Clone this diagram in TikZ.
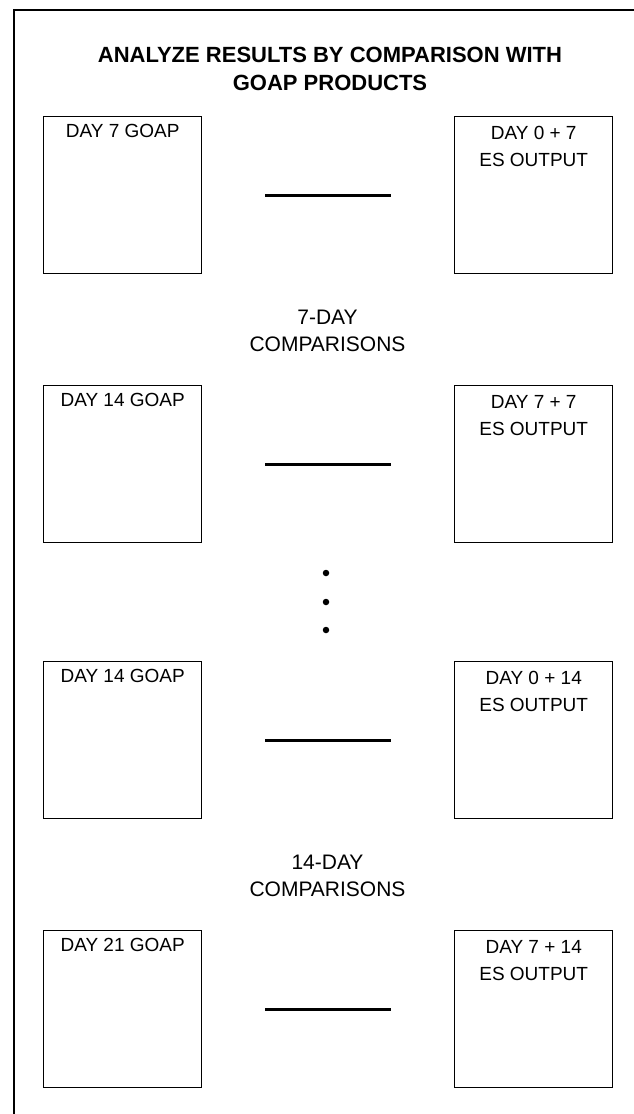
\documentclass[tikz,border=0pt]{standalone}
\usepackage{fontspec}
\setmainfont{Liberation Sans}
\usetikzlibrary{positioning}
\tikzset{
    gbox/.style={draw, line width=1.4pt, minimum width=158pt, minimum height=157pt, inner sep=0pt, anchor=north west},
    boxtext/.style={anchor=north, align=center, inner sep=0pt, font=\fontsize{19}{27}\selectfont},
    pairline/.style={line width=2.6pt},
    cmplabel/.style={align=center, font=\fontsize{21}{27}\selectfont},
    dotmark/.style={circle, fill=black, inner sep=0pt, minimum size=6.5pt}
}

\begin{document}
\begin{tikzpicture}[x=1pt, y=-1pt]
            \useasboundingbox (0,0) rectangle (634,1114);

            % frame
            \draw[line width=1.8pt] (14,1114) -- (14,10) -- (634,10);

            % title
            \node[align=center, font=\bfseries\fontsize{22}{28}\selectfont] (title) at (330,69)
                {ANALYZE RESULTS BY COMPARISON WITH\\GOAP PRODUCTS};

            % day 7 pair
            \begin{scope}[shift={(0,116)}]
                \node[gbox] (g7) at (43,0) {};
                \node[gbox] (e07) at (454,0) {};
                \node[boxtext, below=8pt of g7.north] (g7txt) {DAY 7 GOAP};
                \node[boxtext, below=10pt of e07.north] (e07txt) {DAY 0 + 7\\ES OUTPUT};
                \draw[pairline] ([xshift=63pt]g7.east) -- ([xshift=-63pt]e07.west);
            \end{scope}

            \node[cmplabel] (lab7) at (327.5,331) {7-DAY\\COMPARISONS};

            % day 14 pair
            \begin{scope}[shift={(0,385)}]
                \node[gbox] (g14) at (43,0) {};
                \node[gbox] (e77) at (454,0) {};
                \node[boxtext, below=8pt of g14.north] (g14txt) {DAY 14 GOAP};
                \node[boxtext, below=10pt of e77.north] (e77txt) {DAY 7 + 7\\ES OUTPUT};
                \draw[pairline] ([xshift=63pt]g14.east) -- ([xshift=-63pt]e77.west);
            \end{scope}

            % dots
            \foreach \y [count=\i] in {573,602,630}
                \node[dotmark] (dot\i) at (326,\y) {};

            % day 14 pair, 14-day
            \begin{scope}[shift={(0,661)}]
                \node[gbox] (h14) at (43,0) {};
                \node[gbox] (e014) at (454,0) {};
                \node[boxtext, below=8pt of h14.north] (h14txt) {DAY 14 GOAP};
                \node[boxtext, below=10pt of e014.north] (e014txt) {DAY 0 + 14\\ES OUTPUT};
                \draw[pairline] ([xshift=63pt]h14.east) -- ([xshift=-63pt]e014.west);
            \end{scope}

            \node[cmplabel] (lab14) at (327.5,876) {14-DAY\\COMPARISONS};

            % day 21 pair
            \begin{scope}[shift={(0,930)}]
                \node[gbox] (g21) at (43,0) {};
                \node[gbox] (e714) at (454,0) {};
                \node[boxtext, below=8pt of g21.north] (g21txt) {DAY 21 GOAP};
                \node[boxtext, below=10pt of e714.north] (e714txt) {DAY 7 + 14\\ES OUTPUT};
                \draw[pairline] ([xshift=63pt]g21.east) -- ([xshift=-63pt]e714.west);
            \end{scope}
        \end{tikzpicture}
\end{document}
